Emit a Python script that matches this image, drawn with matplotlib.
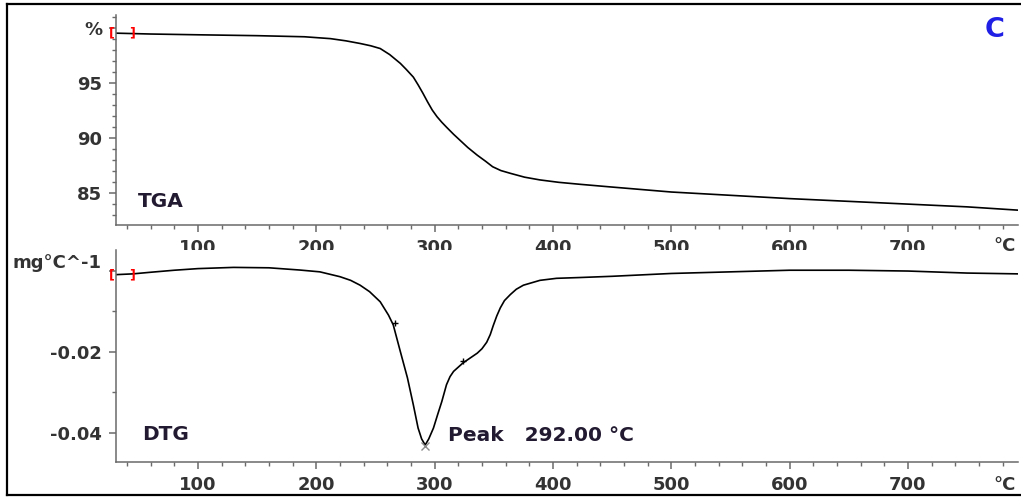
import matplotlib
matplotlib.use("Agg")
import matplotlib.pyplot as plt
from matplotlib.ticker import MultipleLocator, FixedLocator
from matplotlib.lines import Line2D

# TGA: temperature (°C) vs mass (%)
tga_t = [30, 60, 100, 150, 190, 212, 225, 237, 246, 254, 262, 271, 276, 282,
         286, 290, 294, 298, 302, 306, 310, 316, 321, 328, 336, 343, 349,
         356, 364, 376, 389, 405, 423, 450, 500, 550, 600, 650, 700, 750,
         793]
tga_m = [99.55, 99.47, 99.4, 99.32, 99.22, 99.05, 98.85, 98.61, 98.4, 98.15,
         97.6, 96.8, 96.25, 95.55, 94.85, 94.1, 93.3, 92.55, 91.95, 91.45,
         91.0, 90.35, 89.85, 89.15, 88.45, 87.9, 87.4, 87.05, 86.8, 86.45,
         86.2, 85.98, 85.8, 85.55, 85.1, 84.8, 84.5, 84.25, 84.0, 83.75, 83.45]

# DTG: temperature (°C) vs mg/°C
dtg_t = [30, 45, 60, 80, 100, 130, 160, 186, 203, 220, 229, 237, 245, 254,
         261, 265, 271, 277, 282, 286, 289, 292, 295, 299, 302.5, 306, 310,
         313, 316, 324, 330, 336, 340, 344, 347, 349.5, 352.5, 355.5, 359,
         364, 369, 375, 389, 403, 423, 450, 500, 550, 600, 650, 700, 750, 793]
dtg_v = [-0.0009, -0.0007, -0.0003, 0.0002, 0.0006, 0.0009, 0.0008, 0.00025,
         -0.0002, -0.0014, -0.0023, -0.0035, -0.0051, -0.0076, -0.0109,
         -0.0133, -0.0199, -0.0264, -0.0331, -0.0388, -0.0415, -0.043,
         -0.0415, -0.0388, -0.0355, -0.0323, -0.0281, -0.0261, -0.0248,
         -0.0227, -0.0215, -0.0203, -0.0192, -0.0176, -0.0157, -0.0135,
         -0.0111, -0.0091, -0.0073, -0.0058, -0.0045, -0.0035, -0.0023,
         -0.0018, -0.0016, -0.0013, -0.0006, -0.0002, 0.0002, 0.0002, 0.0,
         -0.0005, -0.0007]

onset_t = [266.5, 324]
onset_v = [-0.0128, -0.0222]
peak_t = 292.00
peak_v = -0.043

W, H = 1021, 499
fig = plt.figure(figsize=(W / 100, H / 100), dpi=100)
plt.rcParams['font.family'] = 'DejaVu Sans'

axis_col = '#6a6a6a'
lab_col = '#333333'
txt_col = '#221a30'


def style(ax):
    for s in ['top', 'right']:
        ax.spines[s].set_visible(False)
    for s in ['left', 'bottom']:
        ax.spines[s].set_color(axis_col)
        ax.spines[s].set_linewidth(1.1)
    ax.xaxis.set_major_locator(MultipleLocator(100))
    ax.xaxis.set_minor_locator(MultipleLocator(20))
    ax.tick_params(which='major', length=5, width=1.1, color=axis_col,
                   labelsize=13, labelcolor=lab_col, pad=5)
    ax.tick_params(which='minor', length=3, width=1, color=axis_col)
    for lbl in ax.get_xticklabels() + ax.get_yticklabels():
        lbl.set_fontweight('bold')
    ax.set_xlim(30.7, 793)


# upper panel: TGA
ax1 = fig.add_axes([116 / W, 1 - 225 / H, (1018 - 116) / W, (225 - 15) / H])
ax1.plot(tga_t, tga_m, color='black', lw=1.2)
ax1.set_ylim(82.1, 101.2)
ax1.yaxis.set_major_locator(FixedLocator([85, 90, 95, 100]))
ax1.yaxis.set_minor_locator(MultipleLocator(1))
ax1.set_yticklabels(['85', '90', '95', '%'])
style(ax1)

# lower panel: DTG
ax2 = fig.add_axes([116 / W, 1 - 462 / H, (1018 - 116) / W, (462 - 250) / H])
ax2.plot(dtg_t, dtg_v, color='black', lw=1.2)
ax2.plot(onset_t, onset_v, '+', color='black', ms=5, mew=1)
ax2.plot(peak_t, peak_v - 0.0003, 'x', color='#8a8a8a', ms=6, mew=1)
ax2.set_ylim(-0.0472, 0.0052)
ax2.yaxis.set_major_locator(FixedLocator([-0.04, -0.02, 0.0]))
ax2.yaxis.set_minor_locator(FixedLocator([-0.03, -0.01]))
ax2.set_yticklabels(['-0.04', '-0.02', ''])
style(ax2)

# red integration-range brackets at the start of each curve
for ax, v0 in [(ax1, tga_m[0]), (ax2, dtg_v[0])]:
    ax.text(27.3, v0, '[', color='red', fontsize=9, fontweight='bold',
            ha='center', va='center', clip_on=False, zorder=5)
    ax.text(44.2, v0, ']', color='red', fontsize=9, fontweight='bold',
            ha='center', va='center', clip_on=False, zorder=5)

ax2.annotate('Peak   %.2f °C' % peak_t, xy=(peak_t, peak_v),
             xytext=(16.5, 6.5), textcoords='offset points',
             ha='left', va='center', fontsize=14.5, fontweight='bold',
             color=txt_col)

# panel labels, units and frame
fig.text(138 / W, 1 - 201 / H, 'TGA', fontsize=14.5, fontweight='bold',
         color=txt_col, va='center')
fig.text(142 / W, 1 - 435 / H, 'DTG', fontsize=14.5, fontweight='bold',
         color=txt_col, va='center')
fig.text(101 / W, 1 - 263 / H, 'mg°C^-1', fontsize=13, fontweight='bold',
         color=lab_col, ha='right', va='center')
for yy in [246, 485]:
    fig.text(1016 / W, 1 - yy / H, '°C', fontsize=13, fontweight='bold',
             color=lab_col, ha='right', va='center')
fig.text(995 / W, 1 - 30 / H, 'C', fontsize=19.5, fontweight='bold',
         color='#1f1fe6', ha='center', va='center')

fig.add_artist(Line2D([7 / W, 7 / W], [1 - 4 / H, 1 - 495 / H],
                      color='black', lw=1.6))
fig.add_artist(Line2D([7 / W, 1.0], [1 - 4 / H, 1 - 4 / H],
                      color='black', lw=1.6))
fig.add_artist(Line2D([7 / W, 1.0], [1 - 495 / H, 1 - 495 / H],
                      color='black', lw=1.6))

fig.savefig('out.png', dpi=100)
